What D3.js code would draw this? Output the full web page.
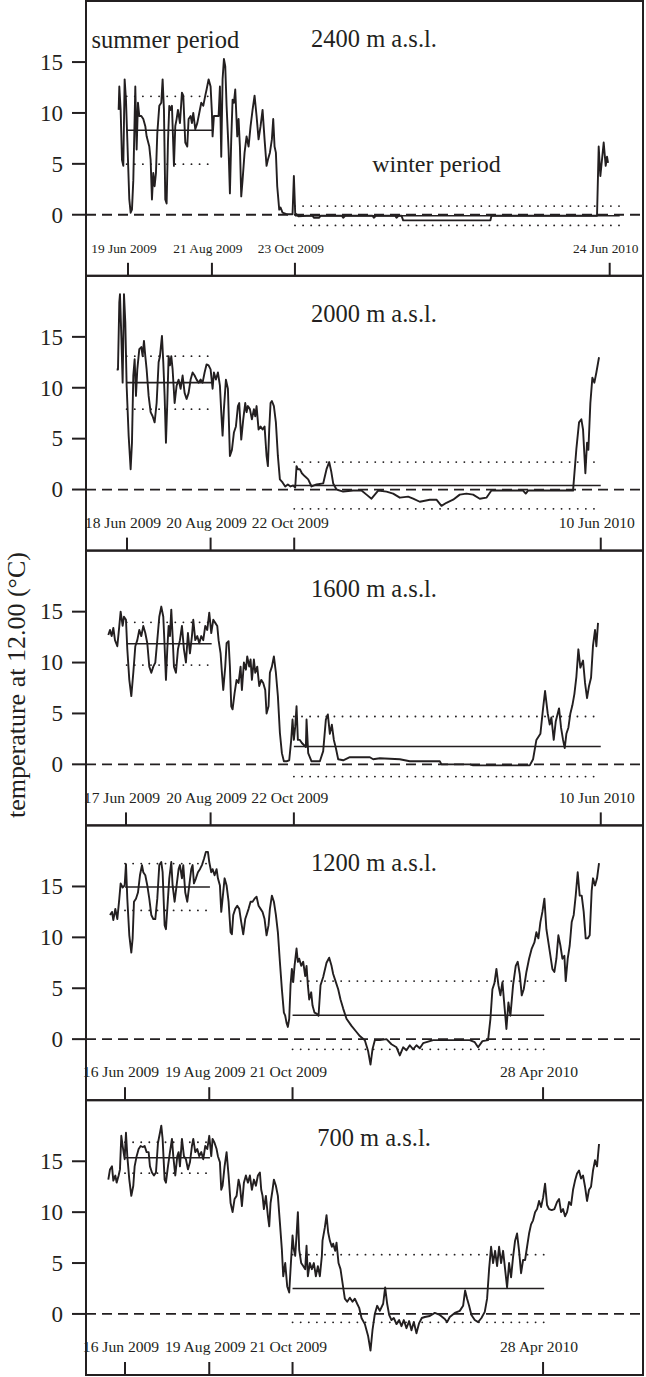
<!DOCTYPE html>
<html>
<head>
<meta charset="utf-8">
<script src="https://cdn.jsdelivr.net/npm/d3@7"></script>
<style>
	body { margin: 0; background: #fff; }
	text { font-family: "Liberation Serif", "Times New Roman", serif; fill: #231f20; }
</style>
</head>
<body>
<script>
//daily temperature at 12.00 for five altitudes, [day index, degC]
var panelTitles = ["2400 m a.s.l.", "2000 m a.s.l.", "1600 m a.s.l.", "1200 m a.s.l.", "700 m a.s.l."];

var t2400 = [[24.5,10.3],[25,12.6],[26,10.3],[27,5.4],[28,4.8],[29,13.3],[30,11.3],[31,7.4],[32.5,1.5],[33.5,0.2],[34.5,0.5],[35.5,3.4],[37,12.6],[38,6.4],[39,11.0],[40,9.7],[41.5,9.7],[43,9.4],[44.5,8.7],[45.5,7.7],[47.5,6.7],[48.5,5.4],[49.5,1.5],[50.5,4.1],[51.5,2.8],[52.5,4.1],[53.5,8.0],[55,10.7],[56.5,11.0],[57.5,13.3],[58.5,10.3],[59.5,1.5],[60.5,1.1],[61.5,7.1],[62.5,10.7],[63.5,10.3],[64.5,10.7],[66,4.8],[67,8.7],[68,9.4],[69,10.3],[70.5,9.0],[72,12.0],[73,11.7],[74.5,7.1],[76,6.7],[77,9.4],[78.5,9.7],[79.5,9.0],[80.5,10.0],[82,8.4],[83.5,9.0],[85,10.0],[86.5,11.0],[88,10.7],[89.5,11.7],[90.5,12.3],[92,13.3],[93.5,12.6],[94.5,10.0],[95,7.7],[96,9.7],[99.5,9.7],[100.5,12.6],[101.5,5.7],[102.5,13.3],[103.5,15.3],[104.5,14.6],[105.5,10.7],[107,6.4],[108,2.1],[109,7.4],[110,11.3],[111,11.0],[112,12.3],[113.5,7.7],[114.5,9.4],[115.5,6.7],[116.5,1.8],[117.5,3.4],[119,6.1],[120.5,7.7],[122,6.7],[123.5,8.7],[125,10.3],[126.5,11.7],[128,9.7],[129.5,7.4],[131,8.7],[132.5,10.3],[134,7.4],[135.5,4.8],[136.5,5.4],[138,6.1],[139.5,7.4],[140.5,9.4],[141.5,6.7],[142.5,6.1],[143.5,2.8],[145,0.5],[146,0.7],[147.5,0.2],[150.5,0.05],[155,0.05],[156,3.8],[157,0.15],[159.5,-0.15],[165.5,-0.1],[170,-0.1],[171,-0.3],[175,-0.3],[176,-0.1],[192,-0.1],[193,-0.3],[194.5,-0.1],[215,-0.1],[216,-0.3],[217.5,-0.1],[232,-0.1],[233,-0.3],[234.5,-0.1],[236.8,-0.1],[238,-0.55],[303.5,-0.55],[304.3,-0.1],[383.5,-0.1],[384.75,6.7],[386,3.8],[388.5,7.1],[390,4.8],[391,5.7],[391.75,5.1]];

var t2000 = [[23,11.8],[24,11.8],[25,18.4],[25.5,19.2],[26.5,15.1],[27.5,10.5],[28.5,19.2],[29.5,16.4],[30.5,10.2],[32,5.3],[33.5,2.0],[34.5,4.6],[35.5,11.2],[36.5,12.8],[37.5,9.2],[38.5,11.8],[40,13.8],[41.5,14.0],[42.5,13.1],[43.5,14.6],[44.5,13.1],[45.5,11.8],[47,9.2],[48.5,7.6],[50,7.2],[51.5,6.6],[53,8.5],[54.5,12.5],[55.5,13.1],[57,15.1],[58,12.5],[59,9.2],[60,4.6],[61,8.5],[62,13.1],[63,12.2],[64,13.1],[65,11.8],[66.5,8.5],[68,10.2],[69.5,10.8],[71,9.9],[72.5,11.2],[74,9.5],[75.5,8.9],[77,9.5],[78.5,10.8],[80,11.5],[81.5,11.2],[83,10.8],[84.5,10.5],[86,10.8],[87.5,10.5],[89,11.5],[90.5,12.3],[92,12.2],[93.5,11.8],[95,9.9],[96,11.5],[97.5,10.8],[99,11.5],[100.5,10.2],[101.5,7.6],[102.5,5.3],[103.5,7.9],[105,10.8],[106.5,9.9],[108,3.3],[109.5,3.9],[111,5.6],[112.5,6.2],[114,8.2],[115,8.5],[116.5,4.9],[118,6.9],[119.5,8.5],[120.5,7.6],[121.5,8.2],[123,7.9],[124.5,6.9],[126,7.9],[127,7.2],[128,8.2],[129.5,5.9],[131,6.2],[132.5,5.9],[134,6.2],[135.5,3.3],[136.5,2.3],[137.5,5.9],[138.5,8.5],[139.5,8.7],[141,8.2],[142.5,6.6],[144,3.3],[145.5,1.0],[147.5,0.7],[149.5,0.3],[151.5,0.5],[153.5,0.3],[155.5,0.4],[157,0.2],[158,2.3],[159,2.0],[160.5,2.0],[162,1.6],[164.25,1.3],[166.75,1.0],[169.25,0.3],[173,0.5],[178,0.6],[180.5,2.0],[182.5,2.7],[184,1.8],[185.5,0.6],[188,0.0],[193,-0.2],[200.5,-0.1],[206.75,-0.1],[210.5,-0.5],[214.25,-0.9],[219.25,-0.1],[225.5,-0.2],[230.5,-0.4],[235.5,-0.8],[241.75,-0.7],[245.5,-0.9],[250.5,-1.2],[258,-1.0],[263,-1.0],[266.75,-1.6],[270.5,-1.3],[275.5,-1.0],[280.5,-0.5],[285.5,-0.4],[290.5,-0.5],[295.5,-0.9],[300.5,-0.8],[304.25,-0.1],[315.5,-0.1],[328,-0.1],[330,-0.4],[331.75,-0.1],[348,-0.1],[365.5,-0.1],[368,4.0],[370,6.6],[371.75,6.9],[373,5.9],[374.75,1.6],[376,4.6],[377,3.9],[378.5,8.5],[380,11.0],[381.5,10.5],[383,11.5],[385,13.0]];

var t1600 = [[16.75,12.7],[18,13.2],[19.25,12.6],[20.5,13.4],[21.75,12.2],[23.5,11.6],[25,13.6],[26,15.0],[27.5,13.6],[28.5,14.5],[30,14.2],[31,11.3],[32.5,8.3],[34,6.7],[35.5,9.0],[37,11.6],[38.5,12.2],[40,13.2],[41.5,12.6],[43,13.6],[44.5,12.9],[46,11.9],[47.5,9.6],[49,9.0],[50.5,9.6],[52,10.0],[53.5,12.2],[55,14.5],[56.5,15.5],[58,14.5],[59,11.6],[60,8.3],[61,11.3],[62,13.6],[63,12.6],[64,15.2],[65,12.6],[66,9.6],[67.5,9.0],[69,11.3],[70.5,12.2],[72,13.6],[73.5,11.3],[75,10.0],[76.5,12.9],[78,10.9],[79.5,12.6],[80.5,14.2],[82,12.2],[83.5,12.6],[85,11.9],[86.5,12.6],[88,12.2],[89.5,13.6],[91,13.2],[92.5,14.9],[94,12.9],[95.5,14.2],[97,13.9],[98.5,13.6],[99.5,12.2],[101,10.9],[102,9.0],[103,7.3],[104.5,9.6],[105.5,11.9],[107,12.1],[108,9.6],[109,5.7],[110,5.4],[111.5,7.0],[113,8.3],[114.5,8.0],[116,9.6],[117,7.3],[118.5,10.0],[120,9.3],[121,10.6],[122.5,9.6],[123.5,10.3],[124.5,8.3],[126,10.3],[127,9.0],[128.5,9.6],[130,7.7],[131.5,8.3],[133,8.0],[134.5,7.3],[135.5,5.0],[137,5.7],[138,9.0],[139.5,9.6],[141,10.6],[142.5,9.0],[144,6.7],[145.5,3.1],[147,1.1],[148.5,0.3],[150.5,0.3],[152.5,0.4],[154,2.4],[155,4.4],[156,2.4],[157,3.7],[158,5.7],[159,2.4],[160.5,2.4],[162,2.1],[163.5,1.9],[165,1.7],[165.5,4.4],[166.75,1.1],[169.25,0.3],[175.5,0.3],[178,1.3],[180,4.4],[181.5,4.9],[183,3.0],[184.5,3.9],[186,2.4],[187.5,1.6],[189.25,0.5],[193,0.4],[198,0.7],[213,0.7],[215.5,0.5],[220.5,0.6],[235.5,0.5],[243,0.3],[265.5,0.3],[266.75,0.0],[288,0.0],[290.5,-0.1],[333,-0.1],[335.5,0.5],[338,2.4],[341,3.0],[343,5.5],[344.5,7.2],[346.5,5.0],[348,3.9],[349.25,4.6],[351,2.4],[352.5,4.2],[355,5.5],[356.5,3.6],[358,2.4],[359.25,1.6],[360.5,3.0],[362,3.6],[363.5,5.0],[365,5.8],[366.5,6.9],[368,8.6],[369.5,11.3],[371,9.5],[373,10.2],[374.5,8.0],[376,6.5],[377.5,7.7],[379,8.5],[380.5,11.7],[382,13.2],[383,11.6],[384.25,13.9]];

var t1200 = [[18,12.2],[19.5,12.5],[20.5,11.7],[22,12.8],[23.5,11.8],[25,13.8],[26,15.3],[27.5,14.9],[29,15.1],[30,17.2],[31,13.8],[32.5,10.2],[34,8.5],[35,9.9],[36,13.5],[37.5,13.8],[39,14.4],[40.5,16.1],[42,17.1],[43,16.4],[44.5,16.1],[46,15.1],[47.5,13.8],[49,12.2],[50.5,11.8],[52,11.8],[53.5,13.8],[55,17.1],[56.5,17.4],[57.5,16.4],[59,11.2],[60,10.8],[61.5,13.8],[62.5,15.8],[64,17.4],[65,15.1],[66.5,13.5],[68,15.1],[69.5,16.7],[70.5,17.1],[72,15.8],[73,17.1],[74.5,14.4],[76,13.5],[77.5,15.1],[79,16.7],[80,17.1],[81,15.3],[82.5,15.8],[84,16.4],[85.5,16.7],[87,17.1],[88.5,17.7],[90,18.4],[91.5,18.4],[92.5,17.4],[94,16.4],[95,16.7],[96.5,16.1],[98,16.7],[99,15.8],[100.5,15.1],[101.5,12.5],[102.5,13.8],[104,15.8],[105.5,15.1],[107,13.5],[108.5,10.5],[109.5,10.3],[110.5,12.2],[112,12.8],[113.5,13.1],[115,12.8],[116.5,11.5],[118,10.3],[119.5,11.8],[120.5,12.2],[122,12.8],[123.5,13.5],[125,13.5],[126.5,13.8],[128,14.0],[129.5,13.1],[131,12.8],[132.5,12.5],[134,11.8],[135.5,10.2],[137,11.2],[138,12.8],[139.5,14.1],[141,13.5],[142.5,12.2],[144,10.5],[145.5,7.6],[147,4.9],[148.5,2.6],[149.5,2.3],[150.5,1.6],[151.5,1.2],[152.5,2.0],[153.5,5.3],[154.5,6.9],[155.5,5.6],[156.5,7.2],[158,8.9],[159,7.6],[160,7.9],[161.5,7.2],[163,7.6],[164.5,6.2],[165.5,7.2],[166.5,5.3],[167.5,3.9],[169,4.6],[170,3.3],[171.5,2.6],[173,2.5],[174.5,2.3],[176,5.3],[178,6.1],[180.5,7.5],[182.5,8.0],[184.25,7.2],[185.5,6.4],[187.5,5.6],[189.25,4.9],[191,3.9],[193,3.0],[195.5,2.0],[199.25,1.3],[203,0.7],[205.5,0.3],[209.25,-0.1],[211.75,-1.2],[213.5,-2.5],[215,-1.0],[216.75,-0.1],[220.5,-0.1],[225.5,0.0],[229.25,-0.5],[233,-0.8],[235.5,-1.6],[238,-0.8],[240.5,-1.1],[243,-0.6],[245.5,-1.0],[248,-0.6],[250.5,-0.9],[253,-0.4],[255.5,-0.3],[260.5,-0.1],[268,-0.1],[278,-0.1],[288,-0.1],[291.75,-0.3],[294.25,-0.8],[297.5,-0.2],[301.75,-0.1],[303.5,2.0],[305,4.9],[306.5,5.5],[308,6.9],[309.5,5.3],[311,4.3],[312.5,5.6],[314,3.3],[315.5,1.0],[317,3.6],[318.5,2.3],[320.5,5.3],[322.5,7.2],[324,7.6],[325.5,6.4],[327,4.3],[328.5,4.9],[330.5,6.6],[332.5,7.9],[334.5,8.9],[336.5,9.5],[338,10.5],[339.5,9.9],[341,11.5],[342.5,12.5],[344,13.8],[345.5,10.8],[347,9.5],[348.5,8.2],[350,6.9],[351.5,6.6],[353,7.9],[354.5,10.2],[356,9.2],[357.5,7.9],[359,8.2],[360,5.7],[361.5,7.9],[363,9.2],[364.5,11.5],[366,12.2],[367.5,14.1],[369,16.4],[370.5,14.1],[372,14.1],[373.5,12.5],[375,9.9],[376.5,9.9],[378,10.2],[379.5,14.6],[380.5,15.8],[382,15.1],[383.5,15.8],[385,17.3]];

var t700 = [[16.75,13.2],[18,14.2],[19.5,14.5],[20.5,13.1],[22,13.6],[23,12.9],[24.5,13.6],[25.5,14.2],[26.5,17.5],[27.5,16.5],[29,15.2],[30,17.8],[31,15.5],[32.5,13.2],[34,11.6],[35.5,12.6],[36.5,14.5],[38,15.5],[39.5,16.2],[41,16.5],[42.5,16.4],[44,16.5],[45.5,15.9],[47,15.9],[48,14.5],[49.5,13.9],[51,13.6],[52.5,13.9],[54,16.8],[55.5,17.8],[56.5,18.5],[57.5,17.2],[59,13.2],[60,12.9],[61.5,14.5],[63,15.9],[64.5,17.2],[65.5,15.5],[67,13.6],[68.5,15.5],[69.5,15.9],[70.5,14.5],[72,17.2],[73.5,15.5],[75,15.2],[76.5,14.2],[78,14.9],[79.5,16.5],[80.5,17.2],[82,15.9],[83.5,16.2],[85,15.5],[86.5,15.9],[88,15.2],[89.5,16.5],[91,16.2],[92.5,17.5],[94,15.5],[95,17.2],[96.5,16.8],[98,16.2],[99,15.5],[100.5,14.9],[101.5,12.2],[102.5,12.6],[104,14.5],[105.5,15.9],[107,13.6],[108.5,10.9],[110,10.0],[111.5,11.3],[113,11.6],[114.5,13.2],[115.5,12.6],[117,10.6],[118.5,12.9],[120,13.6],[121.5,12.9],[123,13.6],[124.5,12.2],[126,13.2],[127.5,12.6],[129,13.6],[130.5,13.9],[131.5,12.2],[132.5,11.6],[133.5,10.3],[135,11.6],[136.5,9.6],[137.5,8.6],[138.5,10.9],[140,12.2],[141,13.2],[142.5,12.6],[144,11.6],[145.5,9.0],[147,6.3],[148,3.7],[149.5,5.0],[151,2.7],[152.5,2.1],[153.5,4.4],[155,7.7],[156,6.3],[157,5.7],[158,7.7],[159,10.0],[160,6.3],[161.5,5.0],[163,4.7],[164.5,4.4],[165.5,6.7],[166.5,3.7],[168,5.0],[169.5,4.4],[171,5.0],[172.5,3.7],[174,4.7],[175.5,3.7],[177,5.7],[177.5,7.2],[179.25,8.5],[180.5,9.7],[181.75,8.0],[183,7.2],[184.5,6.6],[185.5,6.9],[187,6.2],[188,7.0],[189.5,5.0],[191,4.4],[193,2.6],[194.25,1.5],[196,1.2],[198,1.6],[200,1.2],[201.75,1.5],[203.5,1.0],[205,0.6],[206.75,-0.4],[209.25,-1.0],[211.75,-2.2],[213.5,-3.6],[215,-1.6],[216.75,0.0],[218.5,0.8],[220.5,0.3],[223,1.0],[224.5,2.6],[226,1.0],[227.5,-0.1],[229.25,-0.6],[231,-0.4],[233,-1.0],[235,-0.6],[236.75,-1.2],[238.5,-0.6],[240.5,-1.4],[242.5,-0.7],[244.25,-1.6],[246,-0.8],[248,-1.9],[250,-0.9],[252,-0.4],[254.25,-0.3],[258,-0.2],[261.75,0.1],[265.5,-0.1],[269.25,-0.5],[271,-0.8],[273,-0.3],[276.75,0.1],[280.5,0.3],[283,0.8],[284.5,2.3],[286,1.5],[287.5,0.8],[289.25,-0.1],[291.75,-0.6],[294.25,-0.8],[296.75,-0.4],[299.25,0.2],[301,1.5],[302.5,4.4],[304,6.6],[305.5,5.0],[307,6.2],[308.5,4.7],[310,6.6],[311.5,5.0],[313,6.2],[314.5,4.4],[316,2.6],[317.5,5.0],[319,3.6],[320.5,5.6],[322,7.2],[323.5,7.9],[325,6.2],[326.5,4.0],[328,5.3],[329.5,5.3],[331,6.6],[332.5,7.9],[334,8.8],[335.5,9.2],[337,10.0],[338.5,10.3],[340,11.1],[341.5,10.5],[343,11.4],[344.5,12.8],[346,10.7],[347.5,10.3],[349.5,10.2],[351.5,10.3],[353.5,11.0],[355,11.3],[356.5,10.0],[358,10.3],[359.5,9.6],[361,10.0],[362.5,11.0],[364,10.7],[365.5,12.2],[367,13.1],[368.5,13.8],[370,14.1],[371.5,13.3],[373,13.6],[374.5,12.5],[376,11.1],[377.5,12.2],[379,12.5],[380.5,14.1],[382,15.1],[383.5,14.5],[385,16.7]];

var series = [t2400, t2000, t1600, t1200, t700];

//date ticks (day index) and their labels
var tickDays = [[31.5,94.5,156.8,393],[30.75,93.5,156.25,386.3],[30,93.5,156,386.3],[29.25,92.5,155,343],[29.25,92.5,155,343]];
var tickLabels = [
	["19 Jun 2009","21 Aug 2009","23 Oct 2009","24 Jun 2010"],
	["18 Jun 2009","20 Aug 2009","22 Oct 2009","10 Jun 2010"],
	["17 Jun 2009","20 Aug 2009","22 Oct 2009","10 Jun 2010"],
	["16 Jun 2009","19 Aug 2009","21 Oct 2009","28 Apr 2010"],
	["16 Jun 2009","19 Aug 2009","21 Oct 2009","28 Apr 2010"]
];

//summer / winter period means and sd
var summerSpan = [[30.5,95],[30.5,94.3],[30.5,94.3],[29.25,93],[29.25,93]];
var winterSpan = [[156.8,400.5],[156.25,386.3],[156,386.3],[155,343.8],[155,343.8]];
var summerMean = [8.3, 10.5, 11.85, 14.95, 15.35];
var summerSd = [3.33, 2.6, 2.1, 2.3, 1.52];
var winterMean = [-0.1, 0.4, 1.75, 2.35, 2.5];
var winterSd = [0.95, 2.3, 2.95, 3.35, 3.32];

var yTicks = [0, 5, 10, 15];

window.onload = setChart();

function setChart(){
	var width = 646,
		height = 1377,
		left = 86,
		plotWidth = 557,
		panelTop = 1,
		panelHeight = 274.8;

	var svg = d3.select("body")
		.append("svg")
		.attr("width", width)
		.attr("height", height);

	var x = d3.scaleLinear()
		.domain([0, 418])
		.range([0, plotWidth]);

	var y = d3.scaleLinear()
		.domain([-6, 21])
		.range([panelHeight, 0]);

	var line = d3.line()
		.x(function(d){ return x(d[0]); })
		.y(function(d){ return y(d[1]); });

	//y axis title
	svg.append("text")
		.attr("transform", "translate(25," + 685 + ") rotate(-90)")
		.attr("text-anchor", "middle")
		.style("font-size", "26px")
		.text("temperature at 12.00 (\u00B0C)");

	for (var i=0; i<series.length; i++){
		var g = svg.append("g")
			.attr("transform", "translate(" + left + "," + (panelTop + i * panelHeight) + ")");

		//zero line
		g.append("line")
			.attr("x1", 0).attr("x2", plotWidth)
			.attr("y1", y(0)).attr("y2", y(0))
			.attr("stroke", "#231f20")
			.attr("stroke-width", 1.8)
			.attr("stroke-dasharray", "10,6");

		//period means with +- sd
		drawPeriod(g, x, y, summerSpan[i], summerMean[i], summerSd[i]);
		drawPeriod(g, x, y, winterSpan[i], winterMean[i], winterSd[i]);

		//temperature series
		g.append("path")
			.datum(series[i])
			.attr("d", line)
			.attr("fill", "none")
			.attr("stroke", "#231f20")
			.attr("stroke-width", 1.9)
			.attr("stroke-linejoin", "round");

		//y ticks
		g.selectAll(".ytick")
			.data(yTicks)
			.enter()
			.append("line")
			.attr("x1", -14).attr("x2", 0)
			.attr("y1", function(d){ return y(d); })
			.attr("y2", function(d){ return y(d); })
			.attr("stroke", "#231f20")
			.attr("stroke-width", 2);

		g.selectAll(".ylab")
			.data(yTicks)
			.enter()
			.append("text")
			.attr("x", -23)
			.attr("y", function(d){ return y(d); })
			.attr("dy", "0.34em")
			.attr("text-anchor", "end")
			.style("font-size", "23px")
			.text(function(d){ return d; });

		//date ticks along the bottom edge
		var ticks = tickDays[i].map(function(d, k){ return {day: d, label: tickLabels[i][k]}; });
		g.selectAll(".xtick")
			.data(ticks)
			.enter()
			.append("line")
			.attr("x1", function(d){ return x(d.day); })
			.attr("x2", function(d){ return x(d.day); })
			.attr("y1", panelHeight)
			.attr("y2", panelHeight - 13)
			.attr("stroke", "#231f20")
			.attr("stroke-width", 2);

		g.selectAll(".xlab")
			.data(ticks)
			.enter()
			.append("text")
			.attr("x", function(d){ return x(d.day) - 4; })
			.attr("y", 252)
			.attr("text-anchor", "middle")
			.style("font-size", i == 0 ? "13.4px" : "15.6px")
			.text(function(d){ return d.label; });

		//panel title
		g.append("text")
			.attr("x", 288)
			.attr("y", 46)
			.attr("text-anchor", "middle")
			.style("font-size", "24.5px")
			.text(panelTitles[i]);

		//frame
		g.append("rect")
			.attr("width", plotWidth)
			.attr("height", panelHeight)
			.attr("fill", "none")
			.attr("stroke", "#231f20")
			.attr("stroke-width", 2);

		if (i == 0){
			g.append("text")
				.attr("x", 5.5)
				.attr("y", 47)
				.style("font-size", "24.5px")
				.text("summer period");
			g.append("text")
				.attr("x", 350.5)
				.attr("y", 171)
				.attr("text-anchor", "middle")
				.style("font-size", "24px")
				.text("winter period");
		};
	};
};

//solid mean line and dotted mean +- sd lines
function drawPeriod(g, x, y, span, mean, sd){
	g.append("line")
		.attr("x1", x(span[0])).attr("x2", x(span[1]))
		.attr("y1", y(mean)).attr("y2", y(mean))
		.attr("stroke", "#231f20")
		.attr("stroke-width", 1.6);

	[mean + sd, mean - sd].forEach(function(v){
		g.append("line")
			.attr("x1", x(span[0])).attr("x2", x(span[1]))
			.attr("y1", y(v)).attr("y2", y(v))
			.attr("stroke", "#231f20")
			.attr("stroke-width", 1.8)
			.attr("stroke-linecap", "round")
			.attr("stroke-dasharray", "0.1,8");
	});
};
</script>
</body>
</html>
